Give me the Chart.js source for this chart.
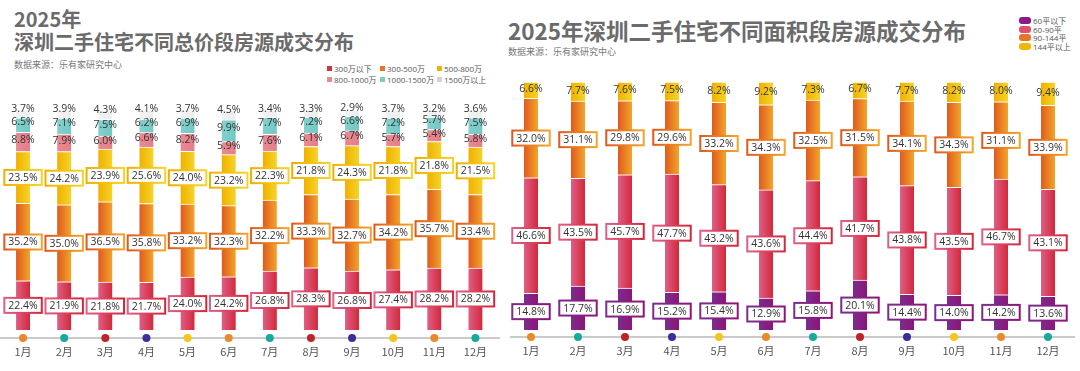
<!DOCTYPE html>
<html>
<head>
<meta charset="utf-8">
<script src="https://cdn.jsdelivr.net/npm/chart.js@4"></script>
<style>
  body { margin: 0; background: #fff; font-family: "Open Sans", "Noto Sans CJK SC", sans-serif; }
  #wrap { position: relative; width: 1080px; height: 371px; overflow: hidden; }
  .t { position: absolute; white-space: nowrap; line-height: 1; color: #6b6b6b; font-weight: bold; font-family: "Noto Sans CJK SC", sans-serif; }
  .src { position: absolute; white-space: nowrap; line-height: 1; color: #777; font-size: 9px; font-family: "Noto Sans CJK SC", sans-serif; }
  .lg { position: absolute; white-space: nowrap; line-height: 1; color: #555; font-size: 9px; font-family: "Open Sans", "Noto Sans CJK SC", sans-serif; }
  .lg i { display: inline-block; vertical-align: middle; margin-right: 2px; position: relative; top: -1px; }
  canvas { position: absolute; top: 0; }
</style>
</head>
<body>
<div id="wrap">
  <div class="t" style="left:14px;top:9px;font-size:20px;">2025年</div>
  <div class="t" style="left:14px;top:32px;font-size:20px;">深圳二手住宅不同总价段房源成交分布</div>
  <div class="src" style="left:14px;top:60px;">数据来源：乐有家研究中心</div>
  <div id="legL"></div>

  <div class="t" style="left:508px;top:19px;font-size:22.5px;">2025年深圳二手住宅不同面积段房源成交分布</div>
  <div class="src" style="left:508px;top:47px;">数据来源：乐有家研究中心</div>
  <div id="legR"></div>

  <canvas id="chartL" width="505" height="371" style="left:0;"></canvas>
  <canvas id="chartR" width="575" height="371" style="left:505px;"></canvas>
</div>
<script>
const months = ['1月','2月','3月','4月','5月','6月','7月','8月','9月','10月','11月','12月'];

// 总价段 (%)
const p300 = [22.4,21.9,21.8,21.7,24.0,24.2,26.8,28.3,26.8,27.4,28.2,28.2];
const p300to500 = [35.2,35.0,36.5,35.8,33.2,32.3,32.2,33.3,32.7,34.2,35.7,33.4];
const p500to800 = [23.5,24.2,23.9,25.6,24.0,23.2,22.3,21.8,24.3,21.8,21.8,21.5];
const p800to1000 = [8.8,7.9,6.0,6.6,8.2,5.9,7.6,6.1,6.7,5.7,5.4,5.8];
const p1000to1500 = [6.5,7.1,7.5,6.2,6.9,9.9,7.7,7.2,6.6,7.2,5.7,7.5];
const p1500 = [3.7,3.9,4.3,4.1,3.7,4.5,3.4,3.3,2.9,3.7,3.2,3.6];

// 面积段 (%)
const a60 = [14.8,17.7,16.9,15.2,15.4,12.9,15.8,20.1,14.4,14.0,14.2,13.6];
const a60to90 = [46.6,43.5,45.7,47.7,43.2,43.6,44.4,41.7,43.8,43.5,46.7,43.1];
const a90to144 = [32.0,31.1,29.8,29.6,33.2,34.3,32.5,31.5,34.1,34.3,31.1,33.9];
const a144 = [6.6,7.7,7.6,7.5,8.2,9.2,7.3,6.7,7.7,8.2,8.0,9.4];

const dotColors = ['#e8892a','#1aa89a','#c0222a','#3a2f9a','#f5c518'];

const RED = ['#de5f86', '#d3283a'];
const ORANGE = ['#e05a1e', '#f2a52a'];
const YELLOW = ['#f0b000', '#f5d428'];
const PINK = ['#e98a93', '#e67d88'];
const CYAN = ['#82d0cc', '#74c8c4'];
const GRAY = ['#f2f2f2', '#eeeeee'];
const PURPLE = ['#7a2e8e', '#8e1478'];

function grad(cols) {
  return function(c) {
    const xs = c.chart.scales.x;
    if (!xs || c.dataIndex === undefined) return cols[1];
    const x = xs.getPixelForValue(c.dataIndex);
    if (!isFinite(x)) return cols[1];
    const g = c.chart.ctx.createLinearGradient(x - 7, 0, x + 7, 0);
    g.addColorStop(0, cols[0]);
    g.addColorStop(1, cols[1]);
    return g;
  };
}

function ds(label, data, cols, boxed) {
  return {
    label: label,
    data: data,
    backgroundColor: grad(cols),
    borderColor: '#ffffff',
    borderWidth: { top: 1, bottom: 0, left: 0, right: 0 },
    borderSkipped: false,
    cols: cols,
    boxed: boxed
  };
}

const segLabels = {
  id: 'segLabels',
  afterDatasetsDraw(chart) {
    const ctx = chart.ctx;
    ctx.save();
    ctx.font = '10.5px "Open Sans", sans-serif';
    ctx.textAlign = 'center';
    ctx.textBaseline = 'middle';
    chart.data.datasets.forEach((d, di) => {
      const meta = chart.getDatasetMeta(di);
      meta.data.forEach((bar, i) => {
        const txt = d.data[i].toFixed(1) + '%';
        const x = bar.x;
        let y = (bar.y + bar.base) / 2;
        if (d.boxed) {
          const w = ctx.measureText(txt).width + 8;
          const h = 15;
          const g = ctx.createLinearGradient(x - w / 2, 0, x + w / 2, 0);
          g.addColorStop(0, d.cols[0]);
          g.addColorStop(1, d.cols[1]);
          ctx.fillStyle = '#fff';
          ctx.fillRect(x - w / 2, y - h / 2, w, h);
          ctx.strokeStyle = g;
          ctx.lineWidth = 2;
          ctx.strokeRect(x - w / 2, y - h / 2, w, h);
          ctx.fillStyle = '#333';
          ctx.fillText(txt, x, y + 0.5);
        } else {
          if (d.shift) y += d.shift;
          ctx.fillStyle = '#333';
          ctx.fillText(txt, x, y);
        }
      });
    });
    ctx.restore();
  }
};

const monthAxis = {
  id: 'monthAxis',
  afterDraw(chart, args, opts) {
    const ctx = chart.ctx;
    const a = chart.chartArea;
    const xs = chart.scales.x;
    const ly = a.bottom + opts.gap;
    ctx.save();
    ctx.strokeStyle = '#b8b8b8';
    ctx.lineWidth = 1.5;
    ctx.beginPath();
    ctx.moveTo(opts.x0, ly);
    ctx.lineTo(opts.x1, ly);
    ctx.stroke();
    ctx.font = '11px "Noto Sans CJK SC", sans-serif';
    ctx.textAlign = 'center';
    ctx.textBaseline = 'middle';
    months.forEach((m, i) => {
      const x = xs.getPixelForValue(i);
      ctx.fillStyle = dotColors[i % dotColors.length];
      ctx.beginPath();
      ctx.arc(x, ly, 4, 0, Math.PI * 2);
      ctx.fill();
      ctx.fillStyle = '#555';
      ctx.fillText(m, x, ly + 14);
    });
    ctx.restore();
  }
};

function baseOptions(pad, axis, barW) {
  return {
    responsive: false,
    animation: false,
    layout: { padding: pad },
    datasets: { bar: { barThickness: barW } },
    plugins: {
      legend: { display: false },
      tooltip: { enabled: false },
      monthAxis: axis
    },
    scales: {
      x: { stacked: true, display: false },
      y: { stacked: true, display: false, min: 0, max: 100 }
    }
  };
}

const leftSets = [
  ds('300万以下', p300, RED, true),
  ds('300-500万', p300to500, ORANGE, true),
  ds('500-800万', p500to800, YELLOW, true),
  ds('800-1000万', p800to1000, PINK, false),
  ds('1000-1500万', p1000to1500, CYAN, false),
  ds('1500万以上', p1500, GRAY, false)
];
leftSets[3].shift = -2;
leftSets[4].shift = -3;
leftSets[5].shift = -5;

new Chart(document.getElementById('chartL'), {
  type: 'bar',
  data: { labels: months, datasets: leftSets },
  options: baseOptions({ left: 2.5, right: 9, top: 110, bottom: 41 }, { gap: 8, x0: 0, x1: 500 }, 14),
  plugins: [segLabels, monthAxis]
});

const rightSets = [
  ds('60平以下', a60, PURPLE, true),
  ds('60-90平', a60to90, RED, true),
  ds('90-144平', a90to144, ORANGE, true),
  ds('144平以上', a144, YELLOW, false)
];
rightSets[3].shift = -1;

new Chart(document.getElementById('chartR'), {
  type: 'bar',
  data: { labels: months, datasets: rightSets },
  options: baseOptions({ left: 2.5, right: 8.5, top: 82, bottom: 41 }, { gap: 7, x0: 5, x1: 570 }, 14),
  plugins: [segLabels, monthAxis]
});

// legends
function legendItem(parent, x, y, text, color, w, h, r, fs) {
  const el = document.createElement('div');
  el.className = 'lg';
  el.style.left = x + 'px';
  el.style.top = (y - fs / 2) + 'px';
  el.style.fontSize = fs + 'px';
  el.innerHTML = '<i style="width:' + w + 'px;height:' + h + 'px;background:' + color + ';border-radius:' + r + 'px"></i>' + text;
  parent.appendChild(el);
}
const legL = document.getElementById('legL');
const legLNames = ['300万以下','300-500万','500-800万','800-1000万','1000-1500万','1500万以上'];
const legLCols = ['#d0343f','#e8742a','#f0b400','#e98a93','#7cccc8','#d4d4d4'];
const legLX = [327, 380, 437];
legLNames.forEach((n, i) => {
  legendItem(legL, legLX[i % 3], i < 3 ? 69 : 80, n, legLCols[i], 5, 5, 0, 8);
});
const legR = document.getElementById('legR');
const legRNames = ['60平以下','60-90平','90-144平','144平以上'];
const legRCols = ['#8b1a8a','#e0506e','#e8742a','#f0b800'];
const legRY = [21, 29.5, 38, 46.5];
legRNames.forEach((n, i) => {
  legendItem(legR, 1019, legRY[i], n, legRCols[i], 12, 7, 3, 8);
});
</script>
</body>
</html>
